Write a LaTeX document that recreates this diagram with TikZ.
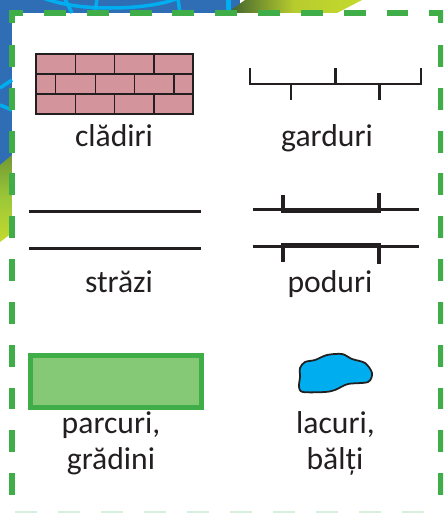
\documentclass[tikz,border=0pt]{standalone}
\usepackage{fontspec}
\setmainfont{Carlito}
\definecolor{mapblue}{HTML}{2F6DB5}
\definecolor{mapline}{HTML}{00AEEF}
\definecolor{framegreen}{HTML}{3FAE49}
\definecolor{parkgreen}{HTML}{85C876}
\definecolor{brickpink}{HTML}{D3959B}
\definecolor{inkdark}{HTML}{231F20}
\definecolor{limegreen}{HTML}{C5D92D}
\definecolor{darkgreen}{HTML}{3C5F2E}
\definecolor{leafgreen}{HTML}{9CC838}
\tikzset{
    framedash/.style={framegreen, line width=4.8pt, dash pattern=on 18.7pt off 17.85pt},
    mapcurve/.style={mapline, line width=3pt},
    thinline/.style={inkdark, line width=1.9pt},
    thickline/.style={inkdark, line width=4.2pt},
    brickline/.style={inkdark, line width=1pt},
    legendlabel/.style={text=inkdark, font=\fontsize{27}{30}\selectfont, anchor=base, inner sep=0pt}
}
\begin{document}
\begin{tikzpicture}[scale=0.03, yscale=-1]
    \useasboundingbox (0,0) rectangle (443,513);
    \clip (0,0) rectangle (443,513);

    \fill[mapblue] (0,0) rectangle (240,13);
    \fill[mapblue] (0,0) rectangle (12,165);
    \draw[mapcurve] (43,-2) .. controls (60,4) and (80,8) .. (110,8) .. controls (135,8) and (160,5) .. (176,-1);
    \draw[mapcurve] (65,-1) -- (72,13);
    \draw[mapcurve] (97,-1) -- (95,13);
    \draw[mapcurve] (178,-1) -- (180,13);
    \draw[mapcurve] (0,88) -- (12,80);
    \draw[mapcurve] (0,105) -- (12,110);
    \fill[mapline] (226,0) rectangle (231,10);
    \shade[left color=darkgreen, right color=limegreen, middle color=limegreen!90!darkgreen] (227,13) -- (245,0) -- (362,0) -- (337,13) -- cycle;
    \shade[top color=darkgreen!45!leafgreen, bottom color=limegreen, middle color=leafgreen] (0,165) -- (12,155) -- (12,233) -- (0,242) -- cycle;

    \draw[framedash] (44,13) -- (443,13);
    \draw[framedash] (12,45) -- (12,513);
    \draw[framedash] (441,45) -- (441,513);
    \draw[framegreen, line width=4.8pt] (12,23) -- (12,13) -- (23,13);
    \draw[framegreen, line width=4.8pt] (432,13) -- (441,13) -- (441,23);
    \foreach \x in {15,58,101,144,187,230,273,316,359,402} {
        \fill[framegreen!20] (\x,511) rectangle (\x+22,513);
    }

    \fill[brickpink] (36,54) rectangle (193,114);
    \draw[brickline] (36,54) rectangle (193,114);
    \draw[brickline] (36,74) -- (193,74);
    \draw[brickline] (36,94) -- (193,94);
    \foreach \x in {75.5,114.5,154} {
        \draw[brickline] (\x,54) -- (\x,74);
        \draw[brickline] (\x,94) -- (\x,114);
    }
    \foreach \x in {55.5,95.5,134.5,174} {
        \draw[brickline] (\x,74) -- (\x,94);
    }
    \node[legendlabel] (cladiri) at (114,146.5) {clădiri};

    \draw[thinline] (250,68) -- (250,84) -- (421,84) -- (421,68);
    \draw[thinline] (335.5,68) -- (335.5,84);
    \draw[thinline] (291,84) -- (291,100);
    \draw[thinline] (379.5,84) -- (379.5,100);
    \node[legendlabel] (garduri) at (327,146.5) {garduri};

    \draw[thinline] (29,211.5) -- (201,211.5);
    \draw[thinline] (29,248.5) -- (201,248.5);
    \node[legendlabel] (strazi) at (119,292.5) {străzi};

    \draw[thinline] (252.5,209.5) -- (419,209.5);
    \draw[thinline] (252.5,246.5) -- (419,246.5);
    \draw[thickline] (283,195) -- (283,211) -- (379,211) -- (379,193);
    \draw[thickline] (283,262) -- (283,245.5) -- (379,245.5) -- (379,264);
    \node[legendlabel] (poduri) at (330,292.5) {poduri};

    \fill[parkgreen] (30.5,355.5) rectangle (201.5,407.5);
    \draw[framegreen, line width=4.8pt] (30.5,355.5) rectangle (201.5,407.5);
    \node[legendlabel] (parcuri) at (111,433.5) {parcuri,};
    \node[legendlabel] (gradini) at (111,469.5) {grădini};

    \draw[inkdark, fill=mapline, line width=1.5pt] plot[smooth cycle, tension=0.5] coordinates {(300,368) (305,362) (315,360) (327,355) (342,354) (352,359) (365,363) (372,373) (368,382) (348,384) (335,390) (325,392) (303,392) (299,387) (300,377)};
    \node[legendlabel] (lacuri) at (335.5,433.5) {lacuri,};
    \node[legendlabel] (balti) at (335,469.5) {bălți};
\end{tikzpicture}
\end{document}
